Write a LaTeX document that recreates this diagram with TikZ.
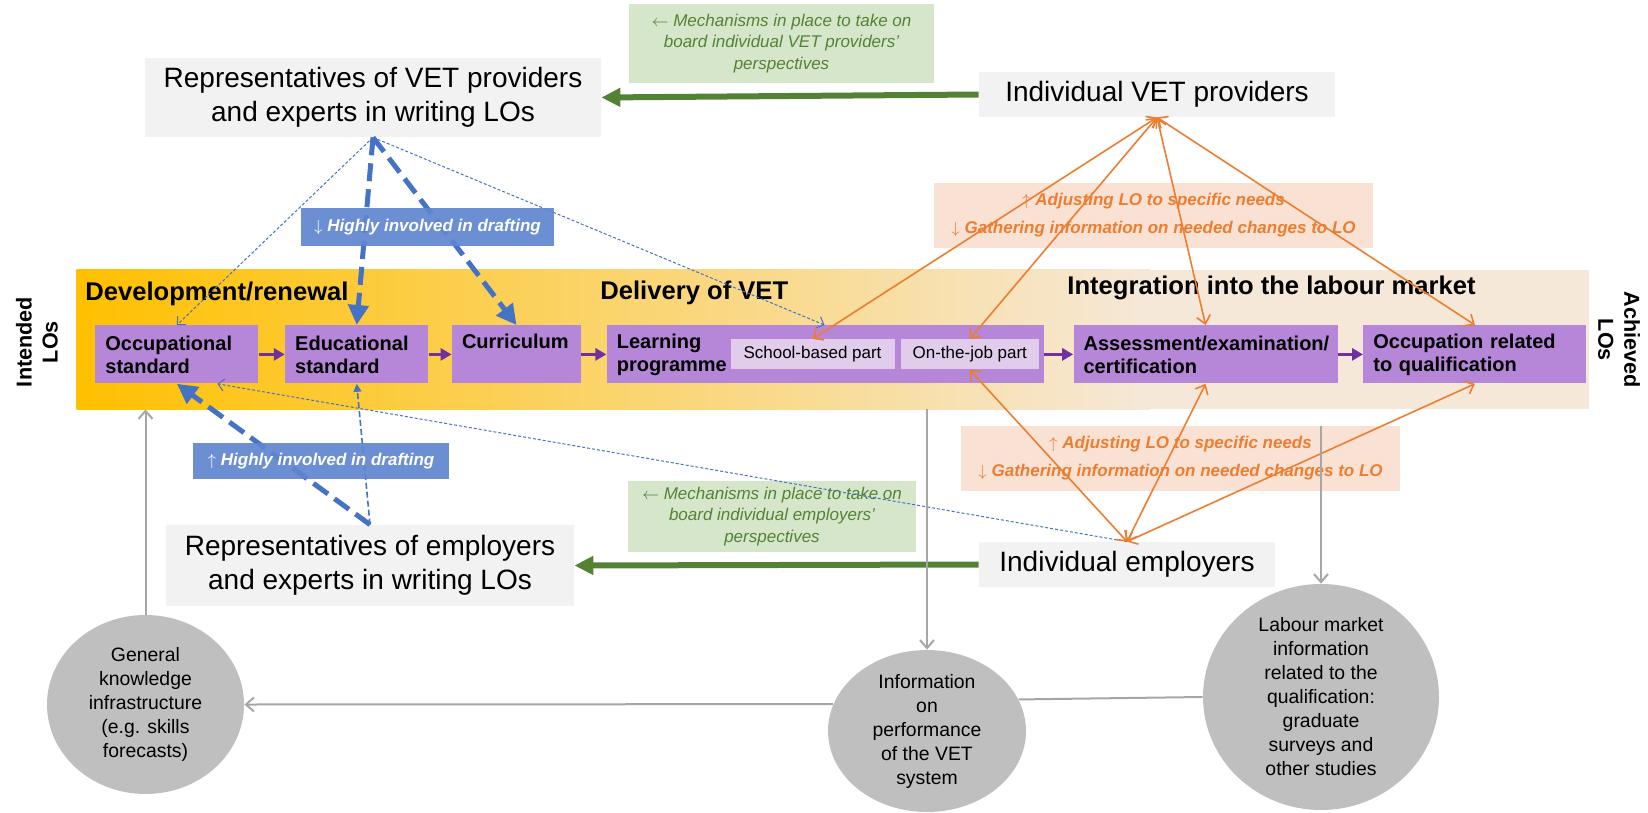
\documentclass[tikz,border=0pt]{standalone}
\usepackage{fontspec}
\setmainfont{Liberation Sans}
\usepackage{tikz}
\usetikzlibrary{positioning,arrows.meta,shapes.geometric}

\definecolor{gold}{HTML}{FFC000}
\definecolor{bandmid}{HTML}{F9D77E}
\definecolor{bandlight}{HTML}{F6E8D9}
\definecolor{boxpurple}{RGB}{182,134,216}
\definecolor{partpurple}{RGB}{225,204,236}
\definecolor{arrowpurple}{HTML}{7030A0}
\definecolor{actorgrey}{HTML}{F2F2F2}
\definecolor{vetgreen}{HTML}{548235}
\definecolor{palegreen}{RGB}{214,230,202}
\definecolor{lobue}{HTML}{4472C4}
\definecolor{paleblue}{RGB}{96,134,208}
\definecolor{loorange}{HTML}{ED7D31}
\definecolor{paleorange}{RGB}{249,226,211}
\definecolor{infogrey}{HTML}{BFBFBF}
\definecolor{linegrey}{HTML}{A6A6A6}

\begin{document}
\begin{tikzpicture}[x=0.5pt,y=-0.5pt,
    actor/.style={fill=actorgrey,align=center,inner sep=0pt,font=\fontsize{14}{17}\selectfont},
    stagebox/.style={fill=boxpurple,align=left,minimum height=29pt,inner xsep=5pt,inner ysep=0pt,font=\bfseries\fontsize{10}{11.5}\selectfont},
    partbox/.style={fill=partpurple,minimum height=15pt,inner sep=0pt,font=\fontsize{8.5}{10}\selectfont},
    heading/.style={anchor=base west,inner sep=0pt,font=\bfseries\fontsize{12.8}{15}\selectfont},
    sidelbl/.style={align=center,inner sep=0pt,font=\bfseries\fontsize{10.8}{13}\selectfont},
    mechlbl/.style={fill=palegreen,text=vetgreen,align=center,inner sep=0pt,font=\itshape\fontsize{8.5}{10.75}\selectfont},
    adjlbl/.style={fill=paleorange,text=loorange,align=center,inner sep=0pt,minimum width=219.5pt,minimum height=32.5pt,font=\bfseries\itshape\fontsize{8.5}{14}\selectfont},
    draftlbl/.style={fill=paleblue,fill opacity=0.92,text opacity=1,text=white,inner sep=0pt,font=\bfseries\itshape\fontsize{8.5}{10}\selectfont},
    infoblob/.style={ellipse,fill=infogrey,align=center,inner sep=0pt,font=\fontsize{9.7}{12}\selectfont},
    flow/.style={arrowpurple,line width=1.5pt,->,>={Triangle[length=5.5pt,width=6pt]}},
    mech/.style={vetgreen,line width=3pt,->,>={Triangle[length=9.5pt,width=9pt]}},
    thickdash/.style={lobue,line width=2.5pt,dash pattern=on 9pt off 4pt,->,>={Triangle[length=10pt,width=10pt]}},
    middash/.style={lobue,line width=0.8pt,dash pattern=on 3pt off 1.5pt,->,>={Triangle[length=4pt,width=4pt]}},
    thindash/.style={lobue,line width=0.5pt,dash pattern=on 1.5pt off 1pt,->,>={Straight Barb[length=3pt,width=6pt]}},
    adjust/.style={loorange,line width=0.8pt,<->,>={Straight Barb[length=4pt,width=7pt]}},
    feed/.style={linegrey,line width=1pt,->,>={Straight Barb[length=4pt,width=7pt]}},
    feedline/.style={linegrey,line width=1pt}]
    \useasboundingbox (0,0) rectangle (1648,813);

    % stages band
    \node[fill=bandlight,minimum width=756pt,minimum height=69.5pt,inner sep=0pt] (band) at (833,339.5) {};
    \shade[left color=gold,middle color=bandmid,right color=bandlight] (band.north west) rectangle (1150,409);
    \node[heading] (devhead) at (85,300) {Development/renewal};
    \node[heading] (delhead) at (600,299) {Delivery of VET};
    \node[heading] (inthead) at (1067,294) {Integration into the labour market};
    \node[sidelbl,rotate=90] (intended) at (37,342) {Intended\\LOs};
    \node[sidelbl,rotate=-90] (achieved) at (1619,340) {Achieved\\LOs};

    \node[stagebox,text width=71.5pt,anchor=north west] (occ) at (95,325) {Occupational\\standard};
    \node[stagebox,text width=61.5pt,right=13pt of occ] (edu) {Educational\\standard};
    \node[stagebox,text width=54.5pt,text depth=13.5pt,right=11.5pt of edu] (curr) {Curriculum};
    \node[stagebox,text width=208.5pt,right=12.5pt of curr] (learn) {Learning\\programme};
    \node[stagebox,text width=122pt,right=14.5pt of learn] (assess) {Assessment/examination/\\certification};
    \node[stagebox,text width=101.5pt,right=12.5pt of assess] (occrel) {Occupation related\\to qualification};
    \node[partbox,minimum width=69pt,left=2.5pt of learn.east,anchor=east] (onjob) {On-the-job part};
    \node[partbox,minimum width=82pt,left=2.75pt of onjob] (school) {School-based part};
    \coordinate[xshift=6pt] (sbtip) at (school.north |- learn.north);

    % actors
    \node[actor,minimum width=228pt,minimum height=39.5pt] (repvet) at (373,97.5) {Representatives of VET providers\\and experts in writing LOs};
    \node[actor,minimum width=178pt,minimum height=22.5pt] (indvet) at (1157,94.5) {Individual VET providers};
    \node[actor,minimum width=204pt,minimum height=40.5pt] (repemp) at (370,565.5) {Representatives of employers\\and experts in writing LOs};
    \node[actor,minimum width=148pt,minimum height=22.5pt] (indemp) at (1127,564.5) {Individual employers};

    \node[mechlbl,minimum width=152.5pt,minimum height=39.5pt] (mechvet) at (781.5,43.5) {$\leftarrow$ Mechanisms in place to take on\\board individual VET providers’\\perspectives};
    \node[mechlbl,minimum width=144pt,minimum height=35.5pt] (mechemp) at (772,516.5) {$\leftarrow$ Mechanisms in place to take on\\board individual employers’\\perspectives};
    \node[adjlbl] (adjvet) at (1153.5,215.5) {$\uparrow$ Adjusting LO to specific needs\\$\downarrow$ Gathering information on needed changes to LO};
    \node[adjlbl] (adjemp) at (1180.5,458.5) {$\uparrow$ Adjusting LO to specific needs\\$\downarrow$ Gathering information on needed changes to LO};

    % information sources
    \node[infoblob,minimum width=98.5pt,minimum height=89.5pt] (gk) at (145.5,704.5) {General\\knowledge\\infrastructure\\(e.g. skills\\forecasts)};
    \node[infoblob,minimum width=99pt,minimum height=81pt] (info) at (927,731) {Information\\on\\performance\\of the VET\\system};
    \node[infoblob,minimum width=118pt,minimum height=113pt] (labour) at (1321,697) {Labour market\\information\\related to the\\qualification:\\graduate\\surveys and\\other studies};

    % arrows
    \draw[flow] (occ) -- (edu);
    \draw[flow] (edu) -- (curr);
    \draw[flow] (curr) -- (learn);
    \draw[flow] (learn) -- (assess);
    \draw[flow] (assess) -- (occrel);

    \draw[mech] (indvet.west) -- (repvet.east);
    \draw[mech] (indemp.west) -- (repemp.east);

    \draw[thickdash] (repvet.south) -- (edu.north);
    \draw[thickdash] (repvet.south) -- (curr.north);
    \draw[thindash] (repvet.south) -- (occ.north);
    \draw[thindash] (repvet.south) -- (sbtip);
    \draw[thickdash] (repemp.north) -- (occ.south);
    \draw[middash] (repemp.north) -- (edu.south);
    \draw[thindash] (indemp.north) -- (occ.-36);

    \draw[adjust] (indvet.south) -- (school.north);
    \draw[adjust] (indvet.south) -- (onjob.north);
    \draw[adjust] (indvet.south) -- (assess.north);
    \draw[adjust] (indvet.south) -- (occrel.north);
    \draw[adjust] (indemp.north) -- (onjob.south);
    \draw[adjust] (indemp.north) -- (assess.south);
    \draw[adjust] (indemp.north) -- (occrel.south);

    \draw[feed] (gk.north) -- (gk.north |- band.south);
    \draw[feed] (info.164) -- (gk.east);
    \draw[feedline] (labour.west) -- (info.19);
    \draw[feed] (info.north |- band.south) -- (info.north);
    \draw[feed] (labour.north |- adjemp.north) -- (labour.north);

    \node[draftlbl,minimum width=126.5pt,minimum height=19pt] (draftdown) at (427.5,227) {$\downarrow$ Highly involved in drafting};
    \node[draftlbl,minimum width=128pt,minimum height=18pt] (draftup) at (321,461) {$\uparrow$ Highly involved in drafting};
\end{tikzpicture}
\end{document}
